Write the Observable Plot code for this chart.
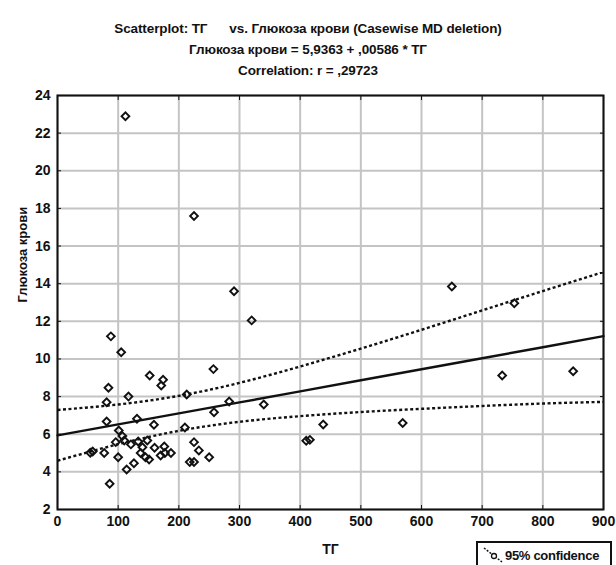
<!DOCTYPE html>
<html>
<head>
<meta charset="utf-8">
<script src="https://cdn.jsdelivr.net/npm/d3@7"></script>
<script src="https://cdn.jsdelivr.net/npm/@observablehq/plot@0.6"></script>
<style>
  html, body { margin: 0; padding: 0; background: #ffffff; }
  #wrap { position: relative; width: 616px; height: 565px; overflow: hidden;
          font-family: "Liberation Sans", Arial, sans-serif; }
  #title { height: 78px; text-align: center; font-weight: bold; color: #111; font-size: 13.5px; letter-spacing: -0.1px; }
  #title div { position: absolute; left: 0; width: 616px; text-align: center; }
  #legend { position: absolute; left: 476px; top: 541px; width: 136px; height: 30px;
            border: 2px solid #111; box-sizing: border-box; background: #fff;
            font-weight: bold; font-size: 13px; color: #111; letter-spacing: -0.3px; }
  #legend span { position: absolute; left: 27px; top: 5px; white-space: nowrap; }
  #legend svg { position: absolute; left: 4px; top: 2px; }
</style>
</head>
<body>
<div id="wrap">
  <div id="title">
    <div style="top:21px">Scatterplot: ТГ&nbsp;&nbsp;&nbsp;&nbsp;&nbsp;&nbsp;vs. Глюкоза крови (Casewise MD deletion)</div>
    <div style="top:42px">Глюкоза крови = 5,9363 + ,00586 * ТГ</div>
    <div style="top:63px">Correlation: r = ,29723</div>
  </div>
  <div id="chart"></div>
  <div id="legend">
    <svg width="24" height="20"><line x1="2" y1="3" x2="20" y2="17" stroke="#111" stroke-width="1.5" stroke-dasharray="2,1.5"/><circle cx="12" cy="11" r="2.5" fill="#fff" stroke="#111" stroke-width="1.3"/></svg>
    <span>95% confidence</span>
  </div>
</div>
<script>
// Scatter points: ТГ (x) and Глюкоза крови (y)
const tg = [112, 225, 291, 320, 650, 753, 88, 105, 257, 152, 174, 171, 84, 117, 213, 81, 283, 340,
            81, 131, 258, 159, 210, 101, 107, 96, 110, 121, 133, 148, 140, 160, 176, 225, 233,
            54, 58, 77, 100, 137, 145, 151, 170, 177, 187, 218, 225, 250, 114, 126, 86,
            410, 416, 438, 569, 733, 850];
const glucose = [22.9, 17.6, 13.6, 12.05, 13.85, 12.96, 11.2, 10.36, 9.46, 9.12, 8.89, 8.59, 8.47, 8.0, 8.11, 7.7, 7.74, 7.58,
            6.68, 6.82, 7.17, 6.5, 6.36, 6.2, 5.9, 5.58, 5.67, 5.46, 5.61, 5.67, 5.31, 5.28, 5.35, 5.58, 5.14,
            5.02, 5.08, 5.0, 4.78, 5.0, 4.78, 4.66, 4.87, 5.0, 5.0, 4.52, 4.52, 4.78, 4.13, 4.46, 3.37,
            5.65, 5.7, 6.52, 6.6, 9.12, 9.35];

// Regression line and 95% confidence band
const bandX     = [0, 100, 200, 300, 400, 500, 600, 700, 800, 900];
const fitY      = [5.94, 6.52, 7.11, 7.69, 8.28, 8.87, 9.45, 10.04, 10.62, 11.21];
const upperY    = [7.29, 7.58, 8.04, 8.73, 9.60, 10.55, 11.55, 12.58, 13.61, 14.62];
const lowerY    = [4.59, 5.47, 6.18, 6.66, 6.96, 7.18, 7.35, 7.50, 7.63, 7.72];

const xTicks = [0, 100, 200, 300, 400, 500, 600, 700, 800, 900];
const yTicks = [2, 4, 6, 8, 10, 12, 14, 16, 18, 20, 22, 24];

const points = tg.map((x, i) => ({x, y: glucose[i]}));
const band = bandX.map((x, i) => ({x, fit: fitY[i], up: upperY[i], lo: lowerY[i]}));

const font = '"Liberation Sans", Arial, sans-serif';

const chart = Plot.plot({
  width: 616,
  height: 487,
  marginTop: 17,
  marginBottom: 56,
  marginLeft: 57,
  marginRight: 13,
  style: {fontFamily: font, fontSize: "14px", fontWeight: "bold", color: "#111", background: "transparent"},
  x: {domain: [0, 900], ticks: xTicks},
  y: {domain: [2, 24], ticks: yTicks},
  marks: [
    Plot.gridX(xTicks, {stroke: "#c4c4c4", strokeOpacity: 1, strokeWidth: 2}),
    Plot.gridY(yTicks, {stroke: "#c4c4c4", strokeOpacity: 1, strokeWidth: 2}),
    Plot.axisX(xTicks, {tickSize: -4, tickPadding: 11, label: null, stroke: "#111"}),
    Plot.axisY(yTicks, {tickSize: -4, tickPadding: 11, label: null, stroke: "#111"}),
    Plot.axisY(yTicks, {anchor: "right", tickSize: -4, tickFormat: () => "", label: null, stroke: "#111"}),
    Plot.axisX(xTicks, {anchor: "top", tickSize: -4, tickFormat: () => "", label: null, stroke: "#111"}),
    Plot.line(band, {x: "x", y: "up", curve: "natural", stroke: "#111", strokeWidth: 2.4, strokeDasharray: "3,2.5", strokeLinecap: "butt"}),
    Plot.line(band, {x: "x", y: "lo", curve: "natural", stroke: "#111", strokeWidth: 2.4, strokeDasharray: "3,2.5", strokeLinecap: "butt"}),
    Plot.line(band, {x: "x", y: "fit", stroke: "#111", strokeWidth: 2.4}),
    Plot.dot(points, {x: "x", y: "y", symbol: "square", rotate: 45, r: 3.1, stroke: "#111", strokeWidth: 1.9, fill: "none"}),
    Plot.frame({stroke: "#111", strokeWidth: 2}),
    Plot.text(["ТГ"], {frameAnchor: "bottom", dy: 44, fontSize: 14, fontWeight: "bold", fill: "#111"}),
    Plot.text(["Глюкоза крови"], {frameAnchor: "left", dx: -35, rotate: -90, fontSize: 13, fontWeight: "bold", fill: "#111"})
  ]
});
document.getElementById("chart").appendChild(chart);
</script>
</body>
</html>
